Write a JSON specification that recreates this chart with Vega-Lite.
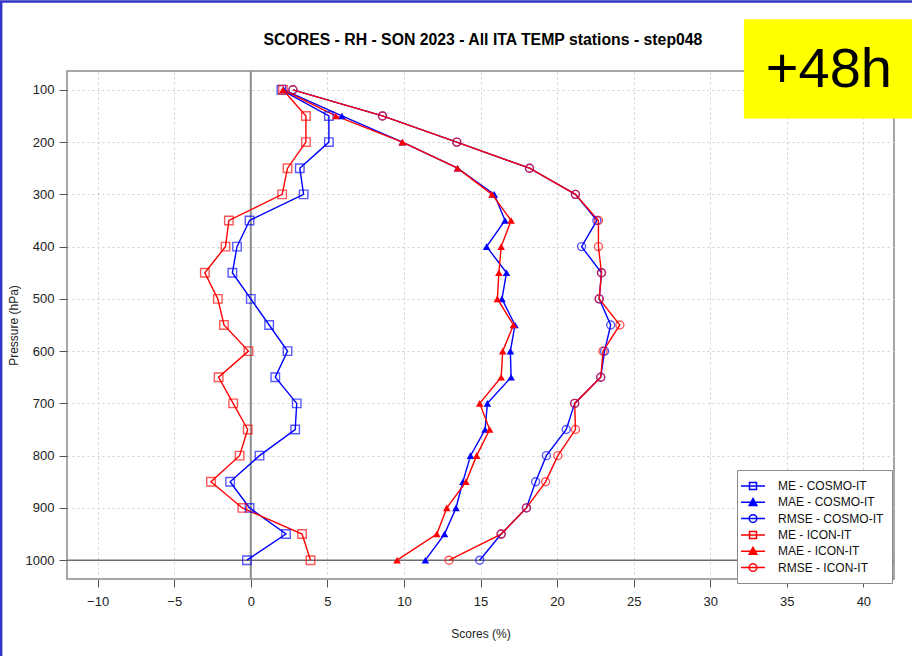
{
  "$schema": "https://vega.github.io/schema/vega-lite/v6.json",
  "width": 827,
  "height": 508,
  "autosize": {"type": "none"},
  "padding": {"left": 67, "top": 71, "right": 18, "bottom": 77},
  "background": "white",
  "config": {
    "font": "Liberation Sans",
    "view": {"stroke": "#8a8a8a", "strokeWidth": 1.5},
    "axis": {"domain": false, "grid": true, "gridColor": "#cfcfcf", "gridDash": [2, 3], "gridWidth": 1, "tickColor": "#555555", "tickSize": 8, "labelFontSize": 13, "labelColor": "#222222", "titleFontSize": 12, "titleFontWeight": "normal", "titleColor": "#222222"}
  },
  "datasets": {
    "scores": [
      {"p": 100, "ME - COSMO-IT": 2.0, "MAE - COSMO-IT": 2.15, "RMSE - COSMO-IT": 2.75, "ME - ICON-IT": 2.1, "MAE - ICON-IT": 2.1, "RMSE - ICON-IT": 2.75},
      {"p": 150, "ME - COSMO-IT": 5.1, "MAE - COSMO-IT": 5.95, "RMSE - COSMO-IT": 8.6, "ME - ICON-IT": 3.6, "MAE - ICON-IT": 5.55, "RMSE - ICON-IT": 8.6},
      {"p": 200, "ME - COSMO-IT": 5.1, "MAE - COSMO-IT": 9.9, "RMSE - COSMO-IT": 13.45, "ME - ICON-IT": 3.6, "MAE - ICON-IT": 9.9, "RMSE - ICON-IT": 13.45},
      {"p": 250, "ME - COSMO-IT": 3.2, "MAE - COSMO-IT": 13.5, "RMSE - COSMO-IT": 18.2, "ME - ICON-IT": 2.4, "MAE - ICON-IT": 13.5, "RMSE - ICON-IT": 18.2},
      {"p": 300, "ME - COSMO-IT": 3.45, "MAE - COSMO-IT": 15.9, "RMSE - COSMO-IT": 21.2, "ME - ICON-IT": 2.05, "MAE - ICON-IT": 15.75, "RMSE - ICON-IT": 21.2},
      {"p": 350, "ME - COSMO-IT": -0.08, "MAE - COSMO-IT": 16.6, "RMSE - COSMO-IT": 22.6, "ME - ICON-IT": -1.43, "MAE - ICON-IT": 17.0, "RMSE - ICON-IT": 22.7},
      {"p": 400, "ME - COSMO-IT": -0.9, "MAE - COSMO-IT": 15.4, "RMSE - COSMO-IT": 21.6, "ME - ICON-IT": -1.65, "MAE - ICON-IT": 16.35, "RMSE - ICON-IT": 22.7},
      {"p": 450, "ME - COSMO-IT": -1.2, "MAE - COSMO-IT": 16.7, "RMSE - COSMO-IT": 22.9, "ME - ICON-IT": -3.0, "MAE - ICON-IT": 16.2, "RMSE - ICON-IT": 22.9},
      {"p": 500, "ME - COSMO-IT": 0.0, "MAE - COSMO-IT": 16.4, "RMSE - COSMO-IT": 22.75, "ME - ICON-IT": -2.15, "MAE - ICON-IT": 16.1, "RMSE - ICON-IT": 22.75},
      {"p": 550, "ME - COSMO-IT": 1.2, "MAE - COSMO-IT": 17.25, "RMSE - COSMO-IT": 23.5, "ME - ICON-IT": -1.75, "MAE - ICON-IT": 17.15, "RMSE - ICON-IT": 24.1},
      {"p": 600, "ME - COSMO-IT": 2.4, "MAE - COSMO-IT": 16.95, "RMSE - COSMO-IT": 23.1, "ME - ICON-IT": -0.15, "MAE - ICON-IT": 16.45, "RMSE - ICON-IT": 23.0},
      {"p": 650, "ME - COSMO-IT": 1.6, "MAE - COSMO-IT": 17.0, "RMSE - COSMO-IT": 22.85, "ME - ICON-IT": -2.1, "MAE - ICON-IT": 16.35, "RMSE - ICON-IT": 22.85},
      {"p": 700, "ME - COSMO-IT": 3.0, "MAE - COSMO-IT": 15.45, "RMSE - COSMO-IT": 21.15, "ME - ICON-IT": -1.15, "MAE - ICON-IT": 14.95, "RMSE - ICON-IT": 21.15},
      {"p": 750, "ME - COSMO-IT": 2.9, "MAE - COSMO-IT": 15.3, "RMSE - COSMO-IT": 20.6, "ME - ICON-IT": -0.2, "MAE - ICON-IT": 15.6, "RMSE - ICON-IT": 21.2},
      {"p": 800, "ME - COSMO-IT": 0.57, "MAE - COSMO-IT": 14.35, "RMSE - COSMO-IT": 19.3, "ME - ICON-IT": -0.73, "MAE - ICON-IT": 14.75, "RMSE - ICON-IT": 20.05},
      {"p": 850, "ME - COSMO-IT": -1.35, "MAE - COSMO-IT": 13.85, "RMSE - COSMO-IT": 18.6, "ME - ICON-IT": -2.6, "MAE - ICON-IT": 14.05, "RMSE - ICON-IT": 19.25},
      {"p": 900, "ME - COSMO-IT": -0.08, "MAE - COSMO-IT": 13.4, "RMSE - COSMO-IT": 18.0, "ME - ICON-IT": -0.55, "MAE - ICON-IT": 12.8, "RMSE - ICON-IT": 18.0},
      {"p": 950, "ME - COSMO-IT": 2.3, "MAE - COSMO-IT": 12.65, "RMSE - COSMO-IT": 16.35, "ME - ICON-IT": 3.35, "MAE - ICON-IT": 12.15, "RMSE - ICON-IT": 16.35},
      {"p": 1000, "ME - COSMO-IT": -0.25, "MAE - COSMO-IT": 11.4, "RMSE - COSMO-IT": 14.95, "ME - ICON-IT": 3.9, "MAE - ICON-IT": 9.55, "RMSE - ICON-IT": 12.95}
    ]
  },
  "layer": [
    {
      "data": {"values": [{"v": 0}]},
      "mark": {"type": "rule", "color": "#8c8c8c", "strokeWidth": 2},
      "encoding": {
        "x": {"field": "v", "type": "quantitative", "scale": {"domain": [-12, 42], "nice": false, "zero": false},
              "axis": {"values": [-10, -5, 0, 5, 10, 15, 20, 25, 30, 35, 40], "title": "Scores (%)", "labelPadding": 8, "titlePadding": 20}}
      }
    },
    {
      "data": {"values": [{"p": 1000}]},
      "mark": {"type": "rule", "color": "#6e6e6e", "strokeWidth": 1.5},
      "encoding": {
        "y": {"field": "p", "type": "quantitative", "scale": {"domain": [64, 1036], "nice": false, "zero": false, "reverse": true},
              "axis": {"values": [100, 150, 200, 250, 300, 350, 400, 450, 500, 550, 600, 650, 700, 750, 800, 850, 900, 950, 1000], "format": "d", "title": "Pressure (hPa)", "labelPadding": 5, "titlePadding": 5}}
      }
    },
    {
      "data": {"name": "scores"},
      "transform": [
        {"fold": ["ME - COSMO-IT", "MAE - COSMO-IT", "RMSE - COSMO-IT", "ME - ICON-IT", "MAE - ICON-IT", "RMSE - ICON-IT"], "as": ["series", "v"]}
      ],
      "encoding": {
        "x": {"field": "v", "type": "quantitative", "scale": {"domain": [-12, 42], "nice": false, "zero": false}},
        "y": {"field": "p", "type": "quantitative", "scale": {"domain": [64, 1036], "nice": false, "zero": false, "reverse": true}},
        "color": {
          "field": "series", "type": "nominal",
          "scale": {"domain": ["ME - COSMO-IT", "MAE - COSMO-IT", "RMSE - COSMO-IT", "ME - ICON-IT", "MAE - ICON-IT", "RMSE - ICON-IT"],
                    "range": ["#0000ff", "#0000ff", "#0000ff", "#ff0000", "#ff0000", "#ff0000"]},
          "legend": {
            "title": null, "orient": "none", "legendX": 670, "legendY": 399,
            "fillColor": "white", "strokeColor": "#8a8a8a", "padding": 8,
            "symbolSize": 196, "symbolStrokeWidth": 1.5, "labelOffset": 17, "rowPadding": 1.3,
            "labelFontSize": 12, "labelColor": "#111111", "labelFont": "Liberation Sans",
            "encode": {
              "symbols": {
                "update": {
                  "shape": {"signal": "indexof(datum.value,'MAE')===0 ? 'M-1.71,0H1.71M0,-0.55L0.55,0.45H-0.55Z' : (indexof(datum.value,'RMSE')===0 ? 'M-1.71,0H1.71M0.55,0A0.55,0.55 0 1,1 -0.55,0A0.55,0.55 0 1,1 0.55,0ZM0.55,0A0.55,0.55 0 1,0 -0.55,0A0.55,0.55 0 1,0 0.55,0Z' : 'M-1.71,0H1.71M-0.5,-0.5H0.5V0.5H-0.5ZM-0.5,-0.5V0.5H0.5V-0.5Z')"},
                  "stroke": {"signal": "indexof(datum.value,'COSMO')>=0 ? '#0000ff' : '#ff0000'"},
                  "fill": {"signal": "indexof(datum.value,'COSMO')>=0 ? '#0000ff' : '#ff0000'"},
                  "strokeWidth": {"value": 1.5},
                  "opacity": {"value": 1}
                }
              }
            }
          }
        }
      },
      "layer": [
        {"mark": {"type": "line", "strokeWidth": 1.4}, "encoding": {"order": {"field": "p", "type": "quantitative"}}},
        {
          "transform": [{"filter": "indexof(datum.series,'MAE')!==0"}],
          "mark": {"type": "point", "filled": false, "strokeWidth": 1.4, "opacity": 0.65},
          "encoding": {
            "shape": {"field": "series", "type": "nominal", "legend": null,
                      "scale": {"domain": ["ME - COSMO-IT", "RMSE - COSMO-IT", "ME - ICON-IT", "RMSE - ICON-IT"], "range": ["square", "circle", "square", "circle"]}},
            "size": {"condition": {"test": "indexof(datum.series,'ME')===0", "value": 72}, "value": 64}
          }
        },
        {
          "transform": [{"filter": "indexof(datum.series,'MAE')===0"}],
          "mark": {"type": "point", "filled": true, "shape": "triangle-up", "size": 58, "opacity": 1}
        }
      ]
    },
    {
      "data": {"values": [{"v": 15.16, "p": 4.7, "label": "SCORES - RH - SON 2023 - All ITA TEMP stations - step048"}]},
      "mark": {"type": "text", "font": "Liberation Sans", "fontSize": 15.8, "fontWeight": "bold", "color": "#000000", "align": "center", "baseline": "middle", "clip": false},
      "encoding": {
        "x": {"field": "v", "type": "quantitative", "scale": {"domain": [-12, 42], "nice": false, "zero": false}},
        "y": {"field": "p", "type": "quantitative", "scale": {"domain": [64, 1036], "nice": false, "zero": false, "reverse": true}},
        "text": {"field": "label"}
      }
    },
    {
      "data": {"values": [{"v": 32.2, "v2": 43.5, "p": -35, "p2": 155}]},
      "mark": {"type": "rect", "fill": "#ffff00", "clip": false},
      "encoding": {
        "x": {"field": "v", "type": "quantitative", "scale": {"domain": [-12, 42], "nice": false, "zero": false}},
        "x2": {"field": "v2"},
        "y": {"field": "p", "type": "quantitative", "scale": {"domain": [64, 1036], "nice": false, "zero": false, "reverse": true}},
        "y2": {"field": "p2"}
      }
    },
    {
      "data": {"values": [{"v": 37.75, "p": 62, "label": "+48h"}]},
      "mark": {"type": "text", "font": "Liberation Sans", "fontSize": 56, "color": "#000000", "align": "center", "baseline": "middle", "clip": false},
      "encoding": {
        "x": {"field": "v", "type": "quantitative", "scale": {"domain": [-12, 42], "nice": false, "zero": false}},
        "y": {"field": "p", "type": "quantitative", "scale": {"domain": [64, 1036], "nice": false, "zero": false, "reverse": true}},
        "text": {"field": "label"}
      }
    },
    {
      "data": {"values": [{"v": -16.3, "v2": 48.9, "p": -69, "p2": 1459}]},
      "mark": {"type": "rect", "fill": null, "fillOpacity": 0, "stroke": "#3434c8", "strokeWidth": 2.5, "clip": false},
      "encoding": {
        "x": {"field": "v", "type": "quantitative", "scale": {"domain": [-12, 42], "nice": false, "zero": false}},
        "x2": {"field": "v2"},
        "y": {"field": "p", "type": "quantitative", "scale": {"domain": [64, 1036], "nice": false, "zero": false, "reverse": true}},
        "y2": {"field": "p2"}
      }
    }
  ]
}
